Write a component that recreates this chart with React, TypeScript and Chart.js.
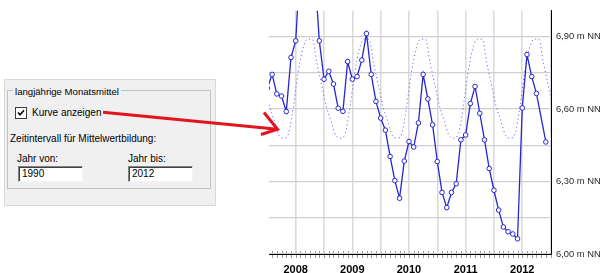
import React, { useEffect, useRef } from 'react';
import { Chart, registerables } from 'chart.js';

Chart.register(...registerables);

// ---- data -------------------------------------------------------------
const MONTHS = [
  '2007-07', '2007-08', '2007-09', '2007-10', '2007-11', '2007-12',
  '2008-01', '2008-02', '2008-03', '2008-04', '2008-05', '2008-06',
  '2008-07', '2008-08', '2008-09', '2008-10', '2008-11', '2008-12',
  '2009-01', '2009-02', '2009-03', '2009-04', '2009-05', '2009-06',
  '2009-07', '2009-08', '2009-09', '2009-10', '2009-11', '2009-12',
  '2010-01', '2010-02', '2010-03', '2010-04', '2010-05', '2010-06',
  '2010-07', '2010-08', '2010-09', '2010-10', '2010-11', '2010-12',
  '2011-01', '2011-02', '2011-03', '2011-04', '2011-05', '2011-06',
  '2011-07', '2011-08', '2011-09', '2011-10', '2011-11', '2011-12',
  '2012-01', '2012-02', '2012-03', '2012-04', '2012-05', '2012-06',
];

const LEVELS: (number | null)[] = [
  6.687, 6.744, 6.663, 6.654, 6.590, 6.814,
  6.883, 7.22, 7.30, 7.27, 7.18, 6.883,
  6.724, 6.757, 6.704, 6.604, 6.591, 6.797,
  6.724, 6.735, 6.803, 6.913, 6.744, 6.632,
  6.563, 6.513, 6.404, 6.304, 6.231, 6.385,
  6.466, 6.443, 6.543, 6.744, 6.642, 6.535,
  6.383, 6.255, 6.192, 6.255, 6.291, 6.473,
  6.493, 6.623, 6.694, 6.583, 6.473, 6.354,
  6.264, 6.182, 6.112, 6.092, 6.083, 6.063,
  6.605, 6.826, 6.735, 6.665, null, 6.464,
];

// long-term monthly means (Jan..Dec), repeated for each shown year
const MEAN_LEVELS = [6.75, 6.85, 6.89, 6.89, 6.79, 6.70, 6.61, 6.55, 6.49, 6.48, 6.50, 6.61];
const MEAN_YEARS = [2007, 2008, 2009, 2010, 2011, 2012];

const BASE_YEAR = 2008;
const X_MIN = -5.66; // months relative to Jan 2008
const X_MAX = 54.09;
const X_GRID_MONTHS = [0, 6, 12, 18, 24, 30, 36, 42, 48, 54];
const YEAR_TICKS = [0, 12, 24, 36, 48];
const YEAR_LABELS = ['2008', '2009', '2010', '2011', '2012'];

const Y_MIN = 6.0;
const Y_MAX = 7.008;
const Y_GRID = [6.0, 6.15, 6.3, 6.45, 6.6, 6.75, 6.9];
const Y_LABELLED = ['6,00 m NN', '', '6,30 m NN', '', '6,60 m NN', '', '6,90 m NN'];

// ---- helpers -----------------------------------------------------------
const monthIndex = (s: string) => {
  const [y, m] = s.split('-').map(Number);
  return (y - BASE_YEAR) * 12 + (m - 1);
};

const FONT = "'Liberation Sans', Arial, sans-serif";

const monthTicks = {
  id: 'monthTicks',
  beforeDraw(chart: any) {
    const xs = chart.scales.x;
    const { ctx, chartArea } = chart;
    ctx.save();
    ctx.strokeStyle = '#9a9a9a';
    ctx.lineWidth = 1;
    for (let m = Math.ceil(xs.min); m <= Math.floor(xs.max); m++) {
      const px = Math.round(xs.getPixelForValue(m)) + 0.5;
      ctx.beginPath();
      ctx.moveTo(px, chartArea.bottom - 3);
      ctx.lineTo(px, chartArea.bottom + 4);
      ctx.stroke();
    }
    ctx.restore();
  },
};

export default function App() {
  const ref = useRef<HTMLCanvasElement>(null);

  useEffect(() => {
    const levelPoints = MONTHS.map((m, i) => ({ x: monthIndex(m), y: LEVELS[i] }));
    const meanPoints: { x: number; y: number }[] = [];
    MEAN_YEARS.forEach((yr) => {
      MEAN_LEVELS.forEach((v, k) => {
        const x = (yr - BASE_YEAR) * 12 + k + 0.5;
        if (x > X_MIN - 2 && x < X_MAX + 2) meanPoints.push({ x, y: v });
      });
    });

    const chart = new Chart(ref.current!, {
      type: 'line',
      data: {
        datasets: [
          {
            label: 'Wasserstand',
            data: levelPoints as any,
            borderColor: '#2626d2',
            borderWidth: 1.3,
            pointRadius: 2.3,
            pointBorderWidth: 1,
            pointBackgroundColor: '#ffffff',
            pointBorderColor: '#2626d2',
            spanGaps: true,
            clip: 0 as any,
          },
          {
            label: 'langjährige Monatsmittel',
            data: meanPoints as any,
            borderColor: '#4f4ff0',
            borderWidth: 1,
            borderDash: [1, 3],
            pointRadius: 0,
            cubicInterpolationMode: 'monotone',
            clip: 0 as any,
          },
        ],
      },
      options: {
        animation: false,
        responsive: false,
        events: [],
        layout: { padding: { left: 269, right: 0, top: 0, bottom: 0 } },
        plugins: { legend: { display: false }, tooltip: { enabled: false } },
        scales: {
          x: {
            type: 'linear',
            min: X_MIN,
            max: X_MAX,
            afterFit: (s: any) => { s.height = 19; },
            afterBuildTicks: (s: any) => { s.ticks = X_GRID_MONTHS.map((v) => ({ value: v })); },
            grid: { color: '#dadada', lineWidth: 1.6, drawTicks: false },
            border: { display: true, color: '#000000', width: 1 },
            ticks: {
              autoSkip: false,
              maxRotation: 0,
              padding: 9,
              color: '#000000',
              font: { family: FONT, size: 11, weight: 'bold' },
              callback: (v: any) => {
                const i = YEAR_TICKS.indexOf(Number(v));
                return i >= 0 ? YEAR_LABELS[i] : '';
              },
            },
          },
          y: {
            type: 'linear',
            position: 'right',
            min: Y_MIN,
            max: Y_MAX,
            afterFit: (s: any) => { s.width = 51; },
            afterBuildTicks: (s: any) => { s.ticks = Y_GRID.map((v) => ({ value: v })); },
            grid: { color: '#cfcfcf', lineWidth: 1.3, drawTicks: false },
            border: { display: true, color: '#000000', width: 1 },
            ticks: {
              autoSkip: false,
              padding: 5,
              color: '#2a2a2a',
              font: { family: FONT, size: 9.4 },
              callback: (v: any) => {
                const i = Y_GRID.findIndex((g) => Math.abs(g - Number(v)) < 1e-6);
                return i >= 0 ? Y_LABELLED[i] : '';
              },
            },
          },
        },
      },
      plugins: [monthTicks],
    } as any);
    return () => chart.destroy();
  }, []);

  const txt = (left: number, top: number, s: string, extra: any = {}) => (
    <div style={{ position: 'absolute', left, top, fontFamily: FONT, fontSize: 10, lineHeight: '12px', color: '#000', whiteSpace: 'nowrap', ...extra }}>{s}</div>
  );

  const inputBox = (left: number, value: string) => (
    <div style={{
      position: 'absolute', left, top: 166, width: 63, height: 14, background: '#fff',
      borderTop: '1px solid #828282', borderLeft: '1px solid #828282',
      borderBottom: '1px solid #f4f4f4', borderRight: '1px solid #f4f4f4',
      boxShadow: 'inset 1px 1px 0 #404040',
    }}>
      <div style={{ position: 'absolute', left: 3, top: 1, fontFamily: FONT, fontSize: 10, lineHeight: '12px', color: '#000' }}>{value}</div>
    </div>
  );

  return (
    <div style={{ position: 'fixed', left: 0, top: 0, width: 602, height: 273, background: '#ffffff', overflow: 'hidden' }}>
      <canvas ref={ref} width={602} height={273} style={{ position: 'absolute', left: 0, top: 0 }} />
      {/* dialog panel */}
      <div style={{ position: 'absolute', left: 4, top: 79, width: 210, height: 125, background: '#f0f0f0', border: '1px solid #d8d8d8' }} />
      <div style={{ position: 'absolute', left: 7, top: 90, width: 202, height: 97, border: '1px solid #c2c2c2' }} />
      {txt(13, 86, 'langjährige Monatsmittel', { background: '#f0f0f0', padding: '0 2px', fontSize: 9.6 })}
      <div style={{ position: 'absolute', left: 15, top: 107, width: 10, height: 10, background: '#fff', border: '1px solid #3c3c3c' }}>
        <svg width={10} height={10} style={{ position: 'absolute', left: 0, top: 0 }}>
          <path d="M2 4.5 L4 6.8 L8 2.2" stroke="#000" strokeWidth={1.6} fill="none" />
        </svg>
      </div>
      {txt(32, 107, 'Kurve anzeigen')}
      {txt(10, 133, 'Zeitintervall für Mittelwertbildung:')}
      {txt(17, 153, 'Jahr von:')}
      {txt(128, 153, 'Jahr bis:')}
      {inputBox(18, '1990')}
      {inputBox(128, '2012')}
      {/* red arrow */}
      <svg width={602} height={273} style={{ position: 'absolute', left: 0, top: 0, pointerEvents: 'none' }}>
        <line x1={103} y1={112.3} x2={275} y2={129} stroke="#e3141e" strokeWidth={3} />
        <polyline points="264,112.5 277.5,129.3 261,134.5" stroke="#e3141e" strokeWidth={3} fill="none" />
      </svg>
    </div>
  );
}
